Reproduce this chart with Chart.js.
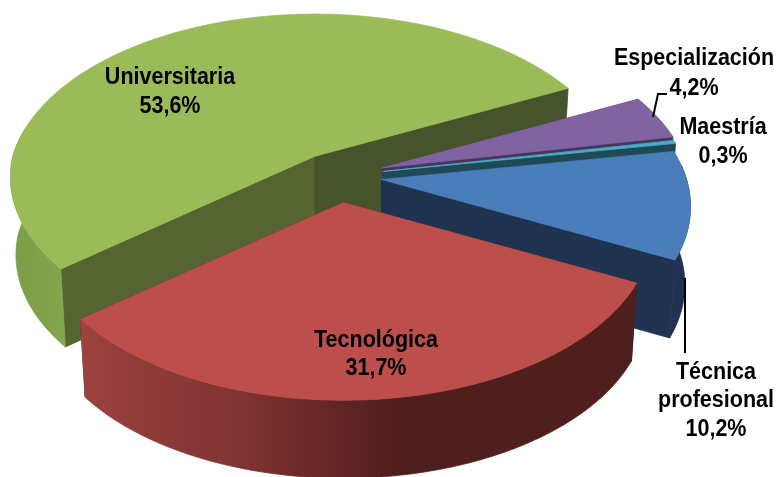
<!DOCTYPE html>
<html>
<head>
<meta charset="utf-8">
<style>html,body{margin:0;padding:0;background:#fff}canvas{display:block}</style>
<script src="https://cdn.jsdelivr.net/npm/chart.js@4"></script>
</head>
<body>
<canvas id="c" width="778" height="477"></canvas>
<script>
const categories = ['Técnica profesional', 'Tecnológica', 'Universitaria', 'Especialización', 'Maestría'];
const percentages = [10.2, 31.7, 53.6, 4.2, 0.3];
const percentLabels = ['10,2%', '31,7%', '53,6%', '4,2%', '0,3%'];

const topColors = ['#4a7ebb', '#bc4e4b', '#9bbb59', '#8064a2', '#4bacc6'];
const explode = [44, 49, 43, 47, 46];
const startWall = ['#1f3350', '#4f1f1e', '#556431', '#47345f', '#215060'];
const endWall = ['#1f3350', '#4f1f1e', '#47532a', '#47345f', '#1f4a55'];
const drawOrder = [2, 3, 4, 0, 1];

const TILT = 0.545, PERSP = 0.159, DEPTH = 78, BOTTOM_X = 0.982;
// The slice pushed towards the back sits further from the camera.
const BACK_SLICE = 2, BACK_SCALE = 0.99, BACK_FRONT_PERSP = 0.125;

const tilt3d = {
  id: 'tilt3d',
  beforeDatasetsDraw(chart) {
    const ctx = chart.ctx;
    const arcs = chart.getDatasetMeta(0).data;
    const deg = Math.PI / 180;

    for (const i of drawOrder) {
      const arc = arcs[i];
      const R = arc.outerRadius;
      const a0 = arc.startAngle, a1 = arc.endAngle;
      const mid = (a0 + a1) / 2;
      const ex = arc.options.offset * Math.cos(mid);
      const ey = arc.options.offset * Math.sin(mid);
      const isBack = i === BACK_SLICE;

      const proj = (r, a, low) => {
        const rr = r * (isBack ? BACK_SCALE : 1);
        const X = rr * Math.cos(a), Y = rr * Math.sin(a);
        const t = isBack && Y > 0 ? BACK_FRONT_PERSP : PERSP;
        const s = 1 / (1 - t * Y / R);
        return [arc.x + ex + X * s * (low ? BOTTOM_X : 1), arc.y + (ey + Y * s) * TILT + (low ? DEPTH : 0)];
      };
      const fill = (pts, color) => {
        ctx.beginPath();
        pts.forEach((p, n) => n ? ctx.lineTo(p[0], p[1]) : ctx.moveTo(p[0], p[1]));
        ctx.closePath();
        ctx.fillStyle = color;
        ctx.fill();
        ctx.strokeStyle = color;
        ctx.lineWidth = 0.8;
        ctx.stroke();
      };
      const arcPts = (from, to, low) => {
        const out = [], n = Math.max(2, Math.ceil(Math.abs(to - from) / (0.5 * deg)));
        for (let j = 0; j <= n; j++) out.push(proj(R, from + (to - from) * j / n, low));
        return out;
      };

      // radial walls
      fill([proj(0, 0, false), proj(R, a0, false), proj(R, a0, true), proj(0, 0, true)], startWall[i]);
      fill([proj(0, 0, false), proj(R, a1, false), proj(R, a1, true), proj(0, 0, true)], endWall[i]);

      // outer wall: the part of the rim that faces the viewer
      const segs = [];
      const norm = 2 * Math.PI;
      for (const k of [-1, 0, 1]) {
        const lo = Math.max(a0, k * norm - 5 * deg), hi = Math.min(a1, k * norm + 190 * deg);
        if (hi > lo) segs.push([lo, hi]);
      }
      for (const [lo, hi] of segs) {
        let paint = startWall[i];
        if (i === 1) {
          const g = ctx.createLinearGradient(81, 0, 632, 0);
          g.addColorStop(0, '#9e423f');
          g.addColorStop(0.09, '#913c39');
          g.addColorStop(0.27, '#823533');
          g.addColorStop(0.4, '#6e2a27');
          g.addColorStop(0.53, '#572120');
          g.addColorStop(0.58, '#4f1f1e');
          g.addColorStop(1, '#4f1f1e');
          paint = g;
        } else if (i === 2) {
          const g = ctx.createLinearGradient(12, 0, 64, 0);
          g.addColorStop(0, '#7c9c47');
          g.addColorStop(1, '#84a54b');
          paint = g;
        }
        fill(arcPts(lo, hi, false).concat(arcPts(hi, lo, true)), paint);
      }

      // top face
      fill([proj(0, 0, false)].concat(arcPts(a0, a1, false)), arc.options.backgroundColor);
    }
    return false;
  },
  afterDraw(chart) {
    const ctx = chart.ctx;
    const arcs = chart.getDatasetMeta(0).data;

    // leader lines
    ctx.strokeStyle = '#000';
    ctx.lineWidth = 2;
    ctx.beginPath();
    ctx.moveTo(653, 117); ctx.lineTo(658, 94); ctx.lineTo(667, 94);
    ctx.moveTo(685, 278); ctx.lineTo(685, 353);
    ctx.stroke();

    // labels
    const place = [
      [716, [372, 400], 429],
      [376, [340], 368],
      [170, [77], 106],
      [694, [58], 88],
      [723, [127], 156]
    ];
    const text = (str, x, y) => {
      ctx.save();
      ctx.translate(x, y);
      ctx.scale(1, 1.12);
      ctx.font = 'bold 21.5px "Liberation Sans", Arial, sans-serif';
      ctx.fillStyle = '#000';
      ctx.textAlign = 'center';
      ctx.textBaseline = 'middle';
      ctx.fillText(str, 0, 0);
      ctx.restore();
    };
    arcs.forEach((arc, i) => {
      const [x, ys, yPct] = place[i];
      const words = i === 0 ? categories[i].split(' ') : [categories[i]];
      if (i === 0) {
        text(words[0], x, ys[0]);
        text(words[1], x, ys[1]);
      } else {
        text(words[0], x, ys[0]);
      }
      text(percentLabels[i], x, yPct);
    });
  }
};

new Chart(document.getElementById('c'), {
  type: 'pie',
  data: {
    labels: categories,
    datasets: [{
      data: percentages,
      backgroundColor: topColors,
      offset: explode,
      borderWidth: 0
    }]
  },
  options: {
    responsive: false,
    animation: false,
    events: [],
    rotation: 80,
    radius: 305,
    layout: { padding: { right: 102, bottom: 125 } },
    plugins: { legend: { display: false }, tooltip: { enabled: false } }
  },
  plugins: [tilt3d]
});
</script>
</body>
</html>
